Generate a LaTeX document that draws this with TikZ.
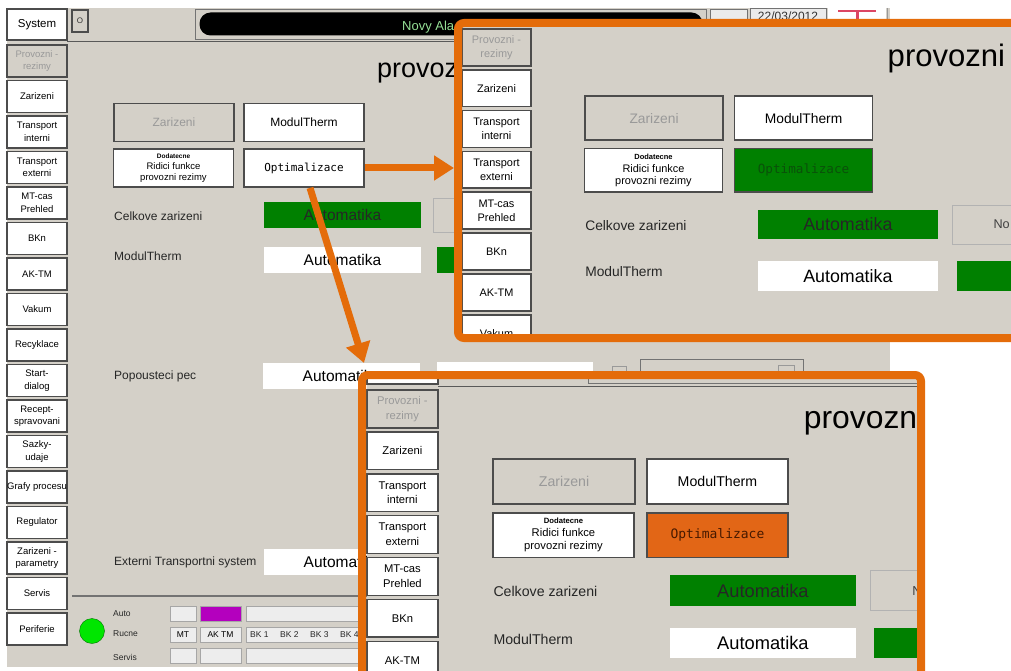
\documentclass[tikz,border=0pt]{standalone}
\usepackage{fontspec}
\setmainfont{Liberation Sans}
\newfontfamily\hmimono{DejaVu Sans Mono}
\usetikzlibrary{arrows.meta}

\definecolor{hmigray}{RGB}{212,208,200}
\definecolor{hmigreen}{RGB}{0,128,0}
\definecolor{optgreen}{RGB}{10,80,10}
\definecolor{optorange}{RGB}{226,102,22}
\definecolor{opttext}{RGB}{70,25,0}
\definecolor{zoomorange}{RGB}{228,108,10}
\definecolor{ledgreen}{RGB}{0,230,0}
\definecolor{autopurple}{RGB}{180,0,190}
\definecolor{alarmgreen}{RGB}{150,225,150}
\definecolor{iconred}{RGB}{220,70,100}

\newcommand{\hmisize}[2]{\fontsize{#1}{#2}\selectfont}

\tikzstyle{navbtn}=[draw=black!70,line width=1.6pt,fill=white,minimum width=60pt,minimum height=32pt,inner sep=0pt,align=center,font=\hmisize{9.5}{12.5}]
\tikzstyle{navoff}=[navbtn,fill=hmigray,text=black!40]
\tikzstyle{hmibtn}=[draw=black!70,line width=1.8pt,fill=white,minimum width=120pt,minimum height=38pt,inner sep=0pt,align=center,font=\hmisize{12}{14}]
\tikzstyle{hmioff}=[hmibtn,fill=hmigray,text=black!40]
\tikzstyle{valbox}=[fill=white,minimum width=157pt,minimum height=26pt,inner sep=0pt,font=\hmisize{15.5}{17}]
\tikzstyle{lbl}=[anchor=west,inner sep=0pt,font=\hmisize{12}{14},text=black!85]
\tikzstyle{stlbl}=[anchor=west,inner sep=0pt,font=\hmisize{8.5}{9},text=black!85]
\tikzstyle{stbox}=[draw=black!35,fill=black!7,minimum height=15pt,inner sep=0pt,font=\hmisize{8.5}{9}]
\tikzstyle{zoomframe}=[draw=zoomorange,line width=8pt,rounded corners=6pt,inner sep=0pt]
\tikzstyle{zoomarrow}=[draw=zoomorange,line width=7pt,-{Triangle[length=20pt,width=24pt]}]

% one screen of the panel, #1/#2 = colours of the Optimalizace button
\newcommand{\hmiscreen}[2]{%
  \fill[hmigray] (7,8) rectangle (890,667);
  \fill[white] (828,8) rectangle (886,42);
  % top bar
  \node[navbtn,minimum height=31pt,font=\hmisize{11.5}{13}] (sys) at (37,24.5) {System};
  \node[navoff,minimum width=16pt,minimum height=22pt,text=black!80,font=\hmisize{8}{9}] (obtn) at (80,21) {O};
  \node[draw=black!55,line width=1pt,minimum width=511pt,minimum height=30pt,inner sep=0pt] (hdrframe) at (450.5,24.5) {};
  \node[fill=black,rounded corners=11pt,minimum width=503pt,minimum height=23pt,inner sep=0pt] (alarmbar) at (451,24) {};
  \node[anchor=west,inner sep=0pt,text=alarmgreen,font=\hmisize{13}{14}] (alarmtxt) at (402,27) {Novy Ala};
  \node[draw=black!55,fill=black!8,minimum width=37pt,minimum height=26pt,inner sep=0pt] (emptybox) at (728.5,22) {};
  \node[draw=black!55,fill=black!8,minimum width=76pt,minimum height=28pt,inner sep=0pt] (datebox) at (788,22) {};
  \node[anchor=north,inner sep=0pt,font=\hmisize{12}{13},text=black!80] (datetxt) at (788,12) {22/03/2012};
  \draw[iconred,line width=2.5pt] (838,11) -- (876,11);
  \draw[iconred,line width=3pt] (857,11) -- (857,24);
  \draw[black!40,line width=1pt] (887,8) -- (887,42);
  \draw[black!65,line width=1pt] (67,42) -- (890,42);
  % menu on the left
  \node[navoff] (nav0) at (37,61) {Provozni -\\rezimy};
  \foreach \lbl [count=\i] in {Zarizeni,Transport\\interni,Transport\\externi,MT-cas\\Prehled,BKn,AK-TM,Vakum,Recyklace,Start-\\dialog,Recept-\\spravovani,Sazky-\\udaje,Grafy procesu,Regulator,Zarizeni -\\parametry,Servis,Periferie}
    \node[navbtn] (nav\i) at (37,61+35.5*\i) {\lbl};
  % title and buttons
  \node[anchor=west,inner sep=0pt,font=\hmisize{27}{30}] (title) at (377,71) {provozni};
  \node[hmioff] (bzar) at (174,122.5) {Zarizeni};
  \node[hmibtn] (bmod) at (304,122.5) {ModulTherm};
  \node[hmibtn,font=\hmisize{9.5}{11}] (bdod) at (173.5,168) {{\hmisize{6.5}{7}\bfseries Dodatecne}\\Ridici funkce\\provozni rezimy};
  \node[hmibtn,fill=#1,text=#2,font=\hmimono\hmisize{11}{13}] (bopt) at (304,168) {Optimalizace};
  % rows
  \node[lbl] (lcelk) at (114,216) {Celkove zarizeni};
  \node[valbox,fill=hmigreen,text=black!85] (vcelk) at (342.5,215) {Automatika};
  \node[valbox,fill=hmigray,draw=black!30,minimum height=34pt] (ncelk) at (512,215) {};
  \node[anchor=west,inner sep=0pt,font=\hmisize{11}{12},text=black!75] (ntxt) at (469,215) {No};
  \node[lbl] (lmod) at (114,256) {ModulTherm};
  \node[valbox] (vmod) at (342.5,259.5) {Automatika};
  \node[valbox,fill=hmigreen] (vmod2) at (515.5,259.5) {};
  \node[lbl] (lpop) at (114,376) {Popousteci pec};
  \node[valbox] (vpop) at (341.5,375.5) {Automatika};
  \node[valbox,minimum width=156pt] (vpop2) at (515,375) {};
  \node[draw=black!40,minimum size=14pt,inner sep=0pt] (pchk) at (619.5,373) {};
  \node[draw=black!55,line width=1pt,minimum width=163pt,minimum height=28pt,inner sep=0pt] (pcombo) at (721.5,373) {};
  \node[draw=black!40,minimum size=16pt,inner sep=0pt] (pcbtn) at (786.5,373) {};
  \node[lbl] (lext) at (114,562) {Externi Transportni system};
  \node[valbox] (vext) at (342.5,562) {Automatika};
  % status bar
  \draw[black!55,line width=1.2pt] (72,596) -- (890,596);
  \node[circle,fill=ledgreen,draw=green!45!black,minimum size=25pt,inner sep=0pt] (led) at (92,631) {};
  \node[stlbl] (lauto) at (113,614) {Auto};
  \node[stlbl] (lruc) at (113,634) {Rucne};
  \node[stlbl] (lserv) at (113,657) {Servis};
  \node[stbox,minimum width=26pt] (amt) at (183,613.5) {};
  \node[stbox,minimum width=41pt,fill=autopurple] (aak) at (220.5,613.5) {};
  \node[stbox,minimum width=300pt,anchor=west] (abk) at (246,613.5) {};
  \node[stbox,minimum width=26pt] (rmt) at (183,634.5) {MT};
  \node[stbox,minimum width=41pt] (rak) at (220.5,634.5) {AK TM};
  \node[stbox,minimum width=300pt,anchor=west] (rbk) at (246,634.5) {};
  \foreach \k in {1,...,4}
    \node[stlbl] (bk\k) at (220+30*\k,634.5) {BK \k};
  \node[stbox,minimum width=26pt] (smt) at (183,655.5) {};
  \node[stbox,minimum width=41pt] (sak) at (220.5,655.5) {};
  \node[stbox,minimum width=300pt,anchor=west] (sbk) at (246,655.5) {};
}

\begin{document}
\begin{tikzpicture}[x=1pt,y=-1pt]
  \useasboundingbox (0,0) rectangle (1011,671);
  \clip (0,0) rectangle (1011,671);
  % whole screen
  \begin{scope}[name prefix=bg-]
    \hmiscreen{white}{black}
  \end{scope}
  % zoom, upper
  \begin{scope}
    \clip (458,23) rectangle (1030,338);
    \begin{scope}[shift={(462,29)},scale=1.15,transform shape,shift={(-7,-45)},name prefix=p1-]
      \hmiscreen{hmigreen}{optgreen}
    \end{scope}
  \end{scope}
  \node[zoomframe,minimum width=572pt,minimum height=315pt] (zoomA) at (744,180.5) {};
  % zoom, lower
  \begin{scope}
    \clip (362,375) rectangle (921,690);
    \begin{scope}[shift={(367,390)},scale=1.18,transform shape,shift={(-7,-45)},name prefix=p2-]
      \hmiscreen{optorange}{opttext}
    \end{scope}
  \end{scope}
  \node[zoomframe,minimum width=559pt,minimum height=315pt] (zoomB) at (641.5,532.5) {};
  % arrows
  \draw[zoomarrow] (bg-bopt.east) -- (bg-bopt.east -| zoomA.west);
  \draw[zoomarrow] ([xshift=6pt]bg-bopt.south) -- ([xshift=6pt,yshift=8pt]zoomB.north west);
\end{tikzpicture}
\end{document}
